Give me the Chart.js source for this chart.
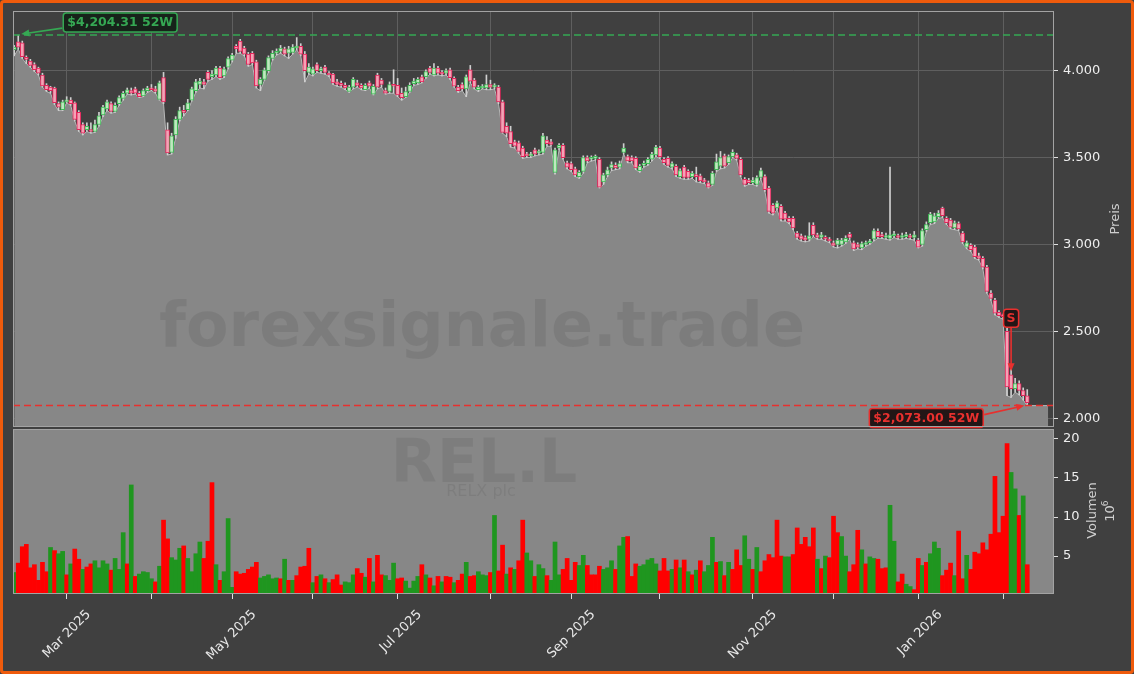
<!DOCTYPE html>
<html>
<head>
<meta charset="utf-8">
<script src="https://cdn.jsdelivr.net/npm/chart.js@4.4.1/dist/chart.umd.min.js"></script>
<style>
  html, body { margin: 0; padding: 0; background: #404040; }
  #wrap { position: relative; width: 1134px; height: 674px; overflow: hidden; background: #404040; }
  #priceChart { position: absolute; left: 0; top: 0; }
  #volChart { position: absolute; left: 0; top: 428px; }
  #frame { position: absolute; left: 0; top: 0; width: 1134px; height: 674px; box-sizing: border-box;
    border: 3px solid #ef5b0c; border-radius: 4px; pointer-events: none; }
</style>
</head>
<body>
<div id="wrap">
  <canvas id="priceChart" width="1134" height="430"></canvas>
  <canvas id="volChart" width="1134" height="246"></canvas>
  <div id="frame"></div>
</div>
<script>
// one entry per trading day, 12 Feb 2025 .. 10 Feb 2026 (index = position on the x axis)
const opens = [
  4120,4165,4160,4075,4055,4035,4015,3975,3915,3905,
  3900,3810,3775,3820,3830,3815,3760,3690,3660,3660,
  3650,3690,3745,3780,3810,3765,3810,3840,3870,3885,
  3895,3870,3855,3885,3900,3895,3835,3960,3660,3530,
  3630,3720,3770,3775,3830,3885,3920,3935,3990,3965,
  3975,4015,3970,4020,4060,4140,4170,4130,4095,4100,
  4050,3920,3950,4000,4070,4100,4110,4125,4100,4105,
  4130,4140,4095,3990,3980,4035,4000,4020,3985,3980,
  3935,3925,3915,3880,3905,3930,3915,3890,3930,3865,
  3975,3945,3885,3880,3920,3915,3870,3850,3880,3925,
  3930,3965,3965,4015,3975,4015,3990,3985,4005,3955,
  3905,3920,3895,4005,3945,3890,3900,3900,3920,3905,
  3905,3820,3680,3650,3590,3585,3555,3520,3510,3545,
  3525,3530,3600,3590,3415,3555,3570,3470,3465,3435,
  3390,3420,3500,3490,3495,3490,3360,3400,3440,3455,
  3445,3530,3505,3500,3495,3425,3455,3465,3490,3515,
  3555,3490,3495,3445,3450,3390,3445,3420,3390,3400,
  3395,3370,3355,3345,3430,3450,3510,3470,3505,3515,
  3490,3375,3370,3355,3345,3385,3390,3325,3225,3210,
  3220,3180,3150,3150,3065,3050,3040,3030,3110,3055,
  3040,3040,3030,3010,3000,3000,3015,3060,3010,3000,
  2980,3000,3010,3030,3075,3050,3040,3035,3050,3045,
  3040,3045,3050,3040,3025,3000,3085,3125,3130,3160,
  3210,3150,3140,3095,3120,3065,2985,2995,2985,2935,
  2920,2870,2720,2680,2610,2590,2500,2250,2170,2200,
  2160,2130
];
const closes = [
  4135,4135,4080,4065,4030,4005,3985,3912,3890,3885,
  3815,3790,3820,3830,3810,3720,3660,3640,3680,3650,
  3690,3740,3790,3820,3765,3800,3845,3870,3890,3870,
  3870,3850,3885,3900,3890,3880,3930,3820,3527,3625,
  3720,3770,3760,3815,3895,3935,3940,3920,3950,3980,
  4015,3960,4010,4070,4090,4125,4110,4095,4035,4045,
  3912,3950,4005,4075,4100,4110,4130,4095,4125,4135,
  4140,4095,4000,4020,4010,4000,4010,3990,3975,3930,
  3920,3915,3900,3905,3950,3915,3900,3915,3910,3910,
  3905,3920,3870,3920,3910,3860,3845,3880,3915,3940,
  3950,3935,3995,3990,4015,3985,3980,4000,3960,3910,
  3885,3895,3965,3940,3905,3905,3910,3920,3905,3910,
  3820,3645,3640,3580,3565,3535,3505,3510,3520,3520,
  3530,3625,3580,3575,3545,3570,3500,3445,3430,3400,
  3415,3500,3480,3495,3500,3330,3400,3430,3460,3440,
  3465,3555,3480,3480,3440,3450,3465,3490,3520,3560,
  3505,3470,3455,3465,3400,3425,3385,3385,3410,3390,
  3365,3360,3330,3410,3475,3500,3450,3505,3530,3495,
  3400,3345,3355,3370,3385,3425,3315,3190,3180,3240,
  3145,3145,3130,3095,3040,3030,3025,3050,3055,3040,
  3055,3030,3020,2995,3025,3025,3035,3040,2975,2985,
  3005,3010,3020,3080,3045,3045,3050,3055,3060,3040,
  3050,3055,3040,3055,2985,3080,3115,3175,3165,3180,
  3165,3125,3100,3125,3090,3015,3010,2970,2930,2920,
  2870,2730,2690,2605,2590,2585,2180,2170,2200,2160,
  2130,2090
];
const highs = [
  4145,4204.31,4170,4085,4065,4045,4020,3985,3925,3910,
  3905,3820,3830,3850,3845,3820,3770,3700,3700,3700,
  3715,3760,3800,3830,3820,3815,3855,3880,3900,3900,
  3905,3880,3895,3910,3920,3910,3940,3990,3700,3640,
  3735,3790,3800,3835,3905,3950,3955,3950,4000,4000,
  4025,4025,4020,4080,4100,4150,4180,4140,4105,4110,
  4060,3960,4015,4085,4115,4125,4145,4135,4140,4150,
  4190,4155,4110,4040,4020,4045,4020,4030,3995,3985,
  3950,3940,3930,3915,3960,3945,3925,3925,3940,3920,
  3985,3955,3900,3935,4005,3955,3900,3905,3930,3955,
  3960,3975,4005,4025,4040,4025,4000,4010,4015,3965,
  3915,3930,3975,4030,3955,3915,3920,3975,3945,3925,
  3915,3830,3700,3680,3600,3595,3565,3530,3530,3555,
  3545,3640,3620,3605,3555,3580,3580,3480,3475,3445,
  3425,3510,3510,3510,3515,3500,3410,3445,3475,3470,
  3480,3580,3515,3510,3505,3460,3480,3500,3530,3570,
  3565,3500,3505,3475,3460,3435,3455,3430,3420,3445,
  3405,3380,3365,3420,3520,3535,3520,3515,3545,3525,
  3500,3385,3380,3385,3395,3440,3400,3335,3235,3250,
  3230,3190,3160,3160,3075,3060,3050,3125,3125,3065,
  3070,3050,3040,3020,3035,3035,3050,3070,3020,3010,
  3015,3020,3030,3090,3090,3070,3065,3445,3075,3060,
  3065,3070,3060,3075,3035,3090,3130,3185,3180,3195,
  3215,3160,3150,3135,3130,3075,3020,3005,2995,2950,
  2930,2880,2735,2690,2620,2600,2520,2300,2230,2215,
  2175,2165
];
const lows = [
  4085,4125,4070,4040,4020,3995,3975,3905,3880,3870,
  3805,3770,3770,3815,3800,3710,3650,3630,3650,3640,
  3645,3680,3735,3770,3755,3760,3800,3830,3865,3860,
  3865,3845,3850,3875,3885,3870,3830,3810,3515,3520,
  3610,3710,3740,3770,3825,3875,3900,3895,3940,3950,
  3965,3950,3960,4010,4050,4100,4100,4085,4025,4035,
  3900,3885,3945,3990,4060,4090,4100,4085,4070,4095,
  4120,4085,3935,3980,3970,3990,3985,3980,3965,3920,
  3910,3905,3890,3875,3895,3905,3890,3885,3900,3860,
  3895,3905,3865,3870,3870,3850,3830,3845,3875,3915,
  3920,3930,3955,3980,3970,3975,3970,3975,3950,3905,
  3875,3885,3850,3930,3895,3880,3895,3890,3890,3895,
  3810,3640,3620,3560,3555,3525,3495,3500,3500,3510,
  3515,3520,3565,3565,3405,3545,3490,3435,3420,3390,
  3380,3410,3470,3480,3485,3325,3345,3390,3425,3430,
  3435,3520,3470,3470,3430,3415,3445,3455,3480,3505,
  3495,3460,3445,3435,3390,3380,3375,3375,3380,3360,
  3355,3350,3325,3340,3420,3435,3440,3460,3500,3485,
  3390,3335,3345,3345,3335,3375,3305,3180,3170,3200,
  3135,3135,3120,3085,3030,3020,3015,3020,3045,3030,
  3030,3020,3010,2985,2980,2990,3005,3030,2965,2975,
  2970,2990,3000,3020,3035,3035,3030,3025,3040,3030,
  3030,3035,3030,3025,2980,2990,3075,3115,3120,3150,
  3155,3115,3090,3085,3080,3005,2975,2960,2920,2910,
  2860,2720,2680,2595,2580,2570,2130,2120,2150,2135,
  2105,2073
];
// volume in millions, and its bar colour (G = up, R = down)
const volumes = [
  2.9,4.1,6.2,6.5,3.5,3.9,1.9,4.2,3.0,6.1,
  5.7,5.3,5.6,2.6,4.0,5.9,4.6,3.3,3.6,4.0,
  4.4,3.5,4.4,4.0,3.2,4.7,3.3,8.0,4.0,14.1,
  2.4,2.7,3.0,2.9,2.1,1.7,3.7,9.6,7.2,4.8,
  4.5,6.0,6.3,4.7,3.0,5.3,6.8,4.7,6.9,14.4,
  3.9,1.9,3.0,9.8,1.0,3.0,2.7,2.8,3.3,3.6,
  4.2,2.2,2.4,2.6,2.1,2.2,2.1,4.6,1.9,1.9,
  2.5,3.6,3.7,6.0,1.6,2.4,2.6,2.1,1.6,2.0,
  2.6,1.3,1.7,1.6,2.6,3.4,2.8,2.3,4.7,1.7,
  5.1,2.6,2.5,1.9,4.1,2.1,2.2,1.8,0.9,1.8,
  2.4,3.9,2.6,2.2,1.2,2.4,1.7,2.4,2.3,1.6,
  1.9,2.7,4.2,2.4,2.5,3.0,2.6,2.5,2.9,10.2,
  3.1,6.4,2.7,3.5,3.3,4.4,9.6,5.4,4.4,2.4,
  3.9,3.4,2.5,1.9,6.8,2.6,3.3,4.7,1.9,4.2,
  3.8,5.1,3.8,2.6,2.6,3.7,3.3,3.5,4.4,3.3,
  6.3,7.4,7.5,2.4,4.0,3.7,3.9,4.5,4.7,4.0,
  3.1,4.7,3.1,3.3,4.5,3.5,4.5,3.0,2.6,3.2,
  4.4,3.0,3.8,7.4,4.2,4.3,2.5,4.2,3.3,5.8,
  3.8,7.6,4.6,3.3,6.1,3.0,4.4,5.2,4.8,9.6,
  5.0,4.9,4.9,5.2,8.6,6.5,7.4,6.2,8.6,4.6,
  3.4,5.0,4.8,10.1,8.0,7.5,5.0,3.0,3.9,8.3,
  5.8,4.0,4.9,4.7,4.6,3.4,3.5,11.5,6.9,1.7,
  2.7,1.4,1.1,0.7,4.7,3.8,4.2,5.3,6.8,6.0,
  2.5,3.2,4.1,2.5,8.2,2.1,5.1,3.3,5.5,5.3,
  6.7,5.8,7.8,15.2,8.0,10.1,19.4,15.7,13.6,10.2,
  12.7,3.9
];
const volumeSide = (
  "GRRRRRRRRG" + "RGGRGRRGRR" + "GGGGRGGGRG" + "RGGGGRGRRG" + "GGRGGGGRRR" +
  "GRGGGRRRRR" + "RGGGGGRGRG" + "RRRRGRGRGR" + "RRGGGRRGRG" + "RRGGGRRGGG" +
  "GRGRGRGRRG" + "RRGRRGGGRG" + "RRGRGRRGGR" + "GGRGGGRRRR" + "GGRRRRGGGR" +
  "GGRRRGGGGG" + "RRRGRGRGRG" + "RGGGRGRGRR" + "RGGRGRRRRR" + "RGGRRRRRRG" +
  "RGRRRGGRRR" + "GRGGRRRGGR" + "RGGRRGRGGG" + "RRRGRRGRRR" + "RRRRRRRGGR" + "GR"
).split("");

const monthTickIdx = [13, 34, 54, 74, 95, 118, 138, 160, 183, 203, 224, 245];
const monthTickLabels = ["Mar 2025", "", "May 2025", "", "Jul 2025", "", "Sep 2025", "", "Nov 2025", "", "Jan 2026", ""];
const priceTicks = [2000, 2500, 3000, 3500, 4000];
const volumeTicks = [5, 10, 15, 20];

const high52 = { index: 1, price: 4204.31, text: "$4,204.31 52W" };
const low52 = { index: 251, price: 2073.0, text: "$2,073.00 52W" };
const sellSignal = { index: 247, price: 2270, text: "S" };
const areaTailEnd = 256.2;

const X_MIN = -0.3;
const X_MAX = 257.63;
const FONT = "'DejaVu Sans', sans-serif";
const GREEN = "#35a853";
const RED = "#e8302e";

Chart.defaults.font.family = FONT;
Chart.defaults.font.size = 13;
Chart.defaults.color = "#eeeeee";
Chart.defaults.animation = false;

const idx = opens.map((_, i) => i);
const isUp = idx.map((i) => closes[i] >= opens[i]);

const fmtPrice = (v) => {
  const s = String(v);
  return s.slice(0, -3) + "." + s.slice(-3);
};

// pin an axis to a fixed size and drop the label overflow padding
const pinSize = (prop, size) => (scale) => {
  scale[prop] = size;
  scale.paddingTop = 0;
  scale.paddingBottom = 0;
  scale.paddingLeft = 0;
  scale.paddingRight = 0;
};

const drawArrow = (ctx, x1, y1, x2, y2, color) => {
  const a = Math.atan2(y2 - y1, x2 - x1);
  const c = Math.cos(a), s = Math.sin(a);
  ctx.strokeStyle = color;
  ctx.fillStyle = color;
  ctx.lineWidth = 1.6;
  ctx.beginPath();
  ctx.moveTo(x1, y1);
  ctx.lineTo(x2 - 6 * c, y2 - 6 * s);
  ctx.stroke();
  ctx.beginPath();
  ctx.moveTo(x2, y2);
  ctx.lineTo(x2 - 8 * c + 3.5 * s, y2 - 8 * s - 3.5 * c);
  ctx.lineTo(x2 - 8 * c - 3.5 * s, y2 - 8 * s + 3.5 * c);
  ctx.closePath();
  ctx.fill();
};

const tagWidth = (ctx, text) => {
  ctx.font = "bold 12.5px " + FONT;
  return ctx.measureText(text).width + 8;
};

const drawTag = (ctx, text, left, top, color, bg) => {
  const w = tagWidth(ctx, text);
  const h = 19;
  ctx.beginPath();
  ctx.roundRect(left, top, w, h, 3);
  ctx.fillStyle = bg;
  ctx.fill();
  ctx.lineWidth = 1.5;
  ctx.strokeStyle = color;
  ctx.stroke();
  ctx.fillStyle = color;
  ctx.textAlign = "left";
  ctx.textBaseline = "middle";
  ctx.fillText(text, left + 4, top + h / 2 + 0.5);
};

const frameBox = {
  id: "frameBox",
  afterDraw(chart) {
    const { ctx, chartArea: a } = chart;
    ctx.save();
    ctx.strokeStyle = "#a3a3a3";
    ctx.lineWidth = 1;
    ctx.strokeRect(a.left + 0.5, a.top + 0.5, a.width - 1, a.height - 1);
    ctx.restore();
  },
};

const priceDecor = {
  id: "priceDecor",
  afterDatasetsDraw(chart) {
    const { ctx, chartArea: a, scales } = chart;
    const x = scales.x, y = scales.y;
    ctx.save();
    ctx.beginPath();
    ctx.rect(a.left, a.top, a.width, a.height);
    ctx.clip();

    ctx.font = "bold 62px " + FONT;
    ctx.fillStyle = "rgba(0,0,0,0.08)";
    ctx.textAlign = "center";
    ctx.textBaseline = "alphabetic";
    ctx.fillText("forexsignale.trade", 482, 346);

    ctx.setLineDash([7, 4]);
    ctx.lineWidth = 1.5;
    const hy = y.getPixelForValue(high52.price);
    ctx.strokeStyle = GREEN;
    ctx.beginPath(); ctx.moveTo(a.left, hy); ctx.lineTo(a.right, hy); ctx.stroke();
    const ly = y.getPixelForValue(low52.price);
    ctx.strokeStyle = RED;
    ctx.beginPath(); ctx.moveTo(a.left, ly); ctx.lineTo(a.right, ly); ctx.stroke();
    ctx.setLineDash([]);
    ctx.restore();

    ctx.save();
    // 52 week high
    const hx = x.getPixelForValue(high52.index);
    const hLeft = hx + 45, hTop = hy - 22;
    drawArrow(ctx, hLeft - 1, hTop + 15, hx + 3, hy - 1, GREEN);
    drawTag(ctx, high52.text, hLeft, hTop, GREEN, "#17231a");

    // 52 week low
    const lx = x.getPixelForValue(low52.index);
    const lw = tagWidth(ctx, low52.text);
    const lRight = lx - 44, lTop = ly + 3;
    drawArrow(ctx, lRight + 1, lTop + 6, lx - 3, ly, RED);
    drawTag(ctx, low52.text, lRight - lw, lTop, RED, "#231616");

    // sell signal
    const sx = x.getPixelForValue(sellSignal.index);
    const sy = y.getPixelForValue(sellSignal.price);
    ctx.font = "bold 12.5px " + FONT;
    const sw = 15, sh = 18;
    const sTop = sy - 62;
    drawArrow(ctx, sx, sTop + sh, sx, sy, RED);
    ctx.beginPath();
    ctx.roundRect(sx - sw / 2, sTop, sw, sh, 3);
    ctx.fillStyle = "#231616";
    ctx.fill();
    ctx.lineWidth = 1.5;
    ctx.strokeStyle = RED;
    ctx.stroke();
    ctx.fillStyle = RED;
    ctx.textAlign = "center";
    ctx.textBaseline = "middle";
    ctx.fillText(sellSignal.text, sx, sTop + sh / 2 + 0.5);

    // axis title
    ctx.translate(1116, (a.top + a.bottom) / 2);
    ctx.rotate(-Math.PI / 2);
    ctx.font = "13px " + FONT;
    ctx.fillStyle = "#cfcfcf";
    ctx.textAlign = "center";
    ctx.textBaseline = "middle";
    ctx.fillText("Preis", 0, 0);
    ctx.restore();
  },
};

const volumeDecor = {
  id: "volumeDecor",
  beforeDraw(chart) {
    const { ctx, chartArea: a } = chart;
    ctx.save();
    ctx.fillStyle = "#878787";
    ctx.fillRect(a.left, a.top, a.width, a.height);
    ctx.restore();
  },
  beforeDatasetsDraw(chart) {
    const { ctx } = chart;
    ctx.save();
    ctx.fillStyle = "rgba(0,0,0,0.07)";
    ctx.textAlign = "center";
    ctx.textBaseline = "alphabetic";
    ctx.font = "bold 60px " + FONT;
    ctx.fillText("REL.L", 484, 54);
    ctx.font = "16px " + FONT;
    ctx.fillText("RELX plc", 481, 68);
    ctx.restore();
  },
  afterDraw(chart) {
    const { ctx, chartArea: a } = chart;
    const cy = (a.top + a.bottom) / 2 - 1;
    ctx.save();
    ctx.fillStyle = "#cfcfcf";
    ctx.textBaseline = "middle";
    ctx.textAlign = "center";
    ctx.translate(1093, cy);
    ctx.rotate(-Math.PI / 2);
    ctx.font = "13px " + FONT;
    ctx.fillText("Volumen", 0, 0);
    ctx.fillText("10", -3, 18);
    ctx.font = "9px " + FONT;
    ctx.fillText("6", 7, 13);
    ctx.restore();
  },
};

const monthAxis = (showLabels) => ({
  type: "linear",
  min: X_MIN,
  max: X_MAX,
  offset: false,
  afterBuildTicks: (scale) => {
    scale.ticks = monthTickIdx.map((v) => ({ value: v }));
  },
  afterFit: pinSize("height", showLabels ? 80 : 0),
  grid: showLabels
    ? { drawOnChartArea: false, drawTicks: true, tickLength: 5, tickColor: "#e0e0e0", offset: false }
    : { color: "#5f5f5f", drawTicks: false, offset: false },
  border: { display: false },
  ticks: {
    display: showLabels,
    autoSkip: false,
    maxRotation: 45,
    minRotation: 45,
    labelOffset: 22,
    padding: 8,
    color: "#e8e8e8",
    callback: (value, index) => monthTickLabels[index],
  },
});

new Chart(document.getElementById("priceChart").getContext("2d"), {
  type: "bar",
  data: {
    datasets: [
      {
        type: "bar",
        label: "Body",
        data: idx.map((i) => ({ x: i, y: [opens[i], closes[i]] })),
        backgroundColor: idx.map((i) => (isUp[i] ? "#bfe8bf" : "#f3a3b6")),
        borderColor: idx.map((i) => (isUp[i] ? "#3dbb55" : "#e3245a")),
        borderWidth: 1,
        borderSkipped: false,
        barThickness: 4,
        minBarLength: 2,
        grouped: false,
        order: 1,
      },
      {
        type: "bar",
        label: "Wick",
        data: idx.map((i) => ({ x: i, y: [lows[i], highs[i]] })),
        backgroundColor: "#cfcfcf",
        barThickness: 1,
        grouped: false,
        order: 2,
      },
      {
        type: "line",
        label: "Low",
        data: idx.map((i) => ({ x: i, y: lows[i] })).concat([{ x: areaTailEnd, y: lows[lows.length - 1] }]),
        borderColor: "#b8b8b8",
        borderWidth: 1,
        backgroundColor: "#878787",
        fill: "start",
        pointRadius: 0,
        tension: 0,
        order: 3,
      },
    ],
  },
  options: {
    responsive: false,
    maintainAspectRatio: false,
    layout: { padding: { left: 13, top: 11, right: 0, bottom: 3 } },
    plugins: { legend: { display: false }, tooltip: { enabled: false } },
    scales: {
      x: monthAxis(false),
      y: {
        position: "right",
        min: 1950,
        max: 4343,
        afterBuildTicks: (scale) => {
          scale.ticks = priceTicks.map((v) => ({ value: v }));
        },
        afterFit: pinSize("width", 80),
        grid: { color: "#5f5f5f", tickColor: "#e0e0e0", tickLength: 4 },
        border: { display: false },
        ticks: { padding: 5, color: "#eeeeee", callback: (v) => fmtPrice(v) },
      },
    },
  },
  plugins: [priceDecor, frameBox],
});

new Chart(document.getElementById("volChart").getContext("2d"), {
  type: "bar",
  data: {
    datasets: [
      {
        label: "Volumen",
        data: idx.map((i) => ({ x: i, y: volumes[i] })),
        backgroundColor: idx.map((i) => (volumeSide[i] === "G" ? "#1f961f" : "#ff0000")),
        barPercentage: 1,
        categoryPercentage: 1,
        borderWidth: 0,
      },
    ],
  },
  options: {
    responsive: false,
    maintainAspectRatio: false,
    layout: { padding: { left: 13, top: 1, right: 0, bottom: 0 } },
    plugins: { legend: { display: false }, tooltip: { enabled: false } },
    scales: {
      x: monthAxis(true),
      y: {
        position: "right",
        min: 0.15,
        max: 21.26,
        afterBuildTicks: (scale) => {
          scale.ticks = volumeTicks.map((v) => ({ value: v }));
        },
        afterFit: pinSize("width", 80),
        grid: { drawOnChartArea: false, tickColor: "#e0e0e0", tickLength: 4 },
        border: { display: false },
        ticks: { padding: 5, color: "#eeeeee" },
      },
    },
  },
  plugins: [volumeDecor, frameBox],
});
</script>
</body>
</html>
